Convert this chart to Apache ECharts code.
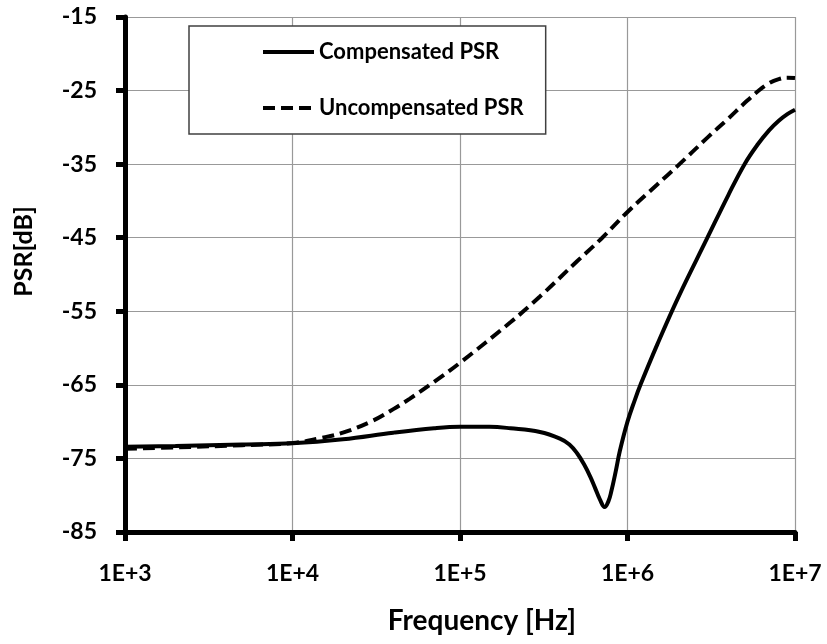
<!DOCTYPE html>
<html>
<head>
<meta charset="utf-8">
<title>PSR vs Frequency</title>
<script src="https://cdn.jsdelivr.net/npm/echarts@6/dist/echarts.min.js"></script>
<style>
  html, body { margin: 0; padding: 0; background: #fff; }
  #chart { width: 827px; height: 644px; }
</style>
</head>
<body>
<div id="chart"></div>
<script>
// Power-supply rejection vs. frequency, [frequency in Hz, PSR in dB]
const compensatedPSR = [
  [1e3, -73.4], [2e3, -73.3], [5e3, -73.1], [1e4, -72.95], [2e4, -72.4],
  [4e4, -71.5], [7e4, -70.9], [1e5, -70.7], [1.5e5, -70.7], [2e5, -70.9],
  [3e5, -71.4], [3.95e5, -72.3], [4.5e5, -73.1], [5e5, -74.3], [5.5e5, -75.8],
  [6e5, -77.5], [6.4e5, -79.0], [6.85e5, -80.6], [7.3e5, -81.6], [7.7e5, -80.8],
  [8e5, -79.5], [8.5e5, -76.8], [9e5, -74.0], [1e6, -70.0], [1.1e6, -67.2],
  [1.2e6, -64.9], [1.5e6, -59.6], [2e6, -53.2], [3e6, -45.0], [4e6, -39.2],
  [5e6, -35.0], [6e6, -32.3], [7e6, -30.4], [8e6, -29.1], [9e6, -28.2],
  [1e7, -27.6]
];
const uncompensatedPSR = [
  [1e3, -73.7], [2e3, -73.5], [5e3, -73.2], [1e4, -72.9], [1.5e4, -72.2],
  [2e4, -71.5], [3e4, -69.9], [4e4, -68.3], [5e4, -66.9], [7e4, -64.6],
  [1e5, -62.0], [2e5, -56.5], [3e5, -53.0], [5e5, -48.2], [7e5, -45.1],
  [1e6, -41.5], [1.5e6, -37.8], [2e6, -35.2], [3e6, -31.4], [4e6, -28.8],
  [5e6, -26.7], [6e6, -25.1], [7e6, -24.0], [8e6, -23.45], [9e6, -23.25],
  [1e7, -23.3]
];
const seriesNames = ['Compensated PSR', 'Uncompensated PSR'];
const xTickLabel = v => '1E+' + Math.round(Math.log10(v));

const FONT = 'Lato, "Open Sans", sans-serif';
const chart = echarts.init(document.getElementById('chart'), null, { renderer: 'canvas' });

chart.setOption({
  backgroundColor: '#ffffff',
  animation: false,
  grid: { left: 125, right: 32, top: 17, bottom: 112 },
  legend: {
    data: seriesNames,
    orient: 'vertical',
    left: 189,
    top: 26,
    padding: [15, 22, 15, 72],
    itemGap: 34,
    itemWidth: 51,
    itemHeight: 20,
    backgroundColor: '#ffffff',
    borderColor: '#404040',
    borderWidth: 1.5,
    borderRadius: 0,
    itemStyle: { opacity: 0 },
    lineStyle: { width: 4 },
    textStyle: { fontFamily: FONT, fontWeight: 'bold', fontSize: 22, color: '#000', lineHeight: 20 }
  },
  xAxis: {
    type: 'log',
    logBase: 10,
    min: 1e3,
    max: 1e7,
    name: 'Frequency [Hz]',
    nameLocation: 'middle',
    nameGap: 75,
    nameTextStyle: { fontFamily: FONT, fontWeight: 'bold', fontSize: 28, color: '#000', padding: [0, 0, 0, 44] },
    axisLine: { show: true, onZero: false, lineStyle: { color: '#000', width: 5 } },
    axisTick: { show: true, inside: false, length: 9, lineStyle: { color: '#000', width: 5 } },
    minorTick: { show: false },
    axisLabel: { formatter: xTickLabel, margin: 30, fontFamily: FONT, fontWeight: 'bold', fontSize: 23, color: '#000' },
    splitLine: { show: true, lineStyle: { color: '#999', width: 1.2 } }
  },
  yAxis: {
    type: 'value',
    min: -85,
    max: -15,
    interval: 10,
    name: 'PSR[dB]',
    nameLocation: 'middle',
    nameGap: 89,
    nameTextStyle: { fontFamily: FONT, fontWeight: 'bold', fontSize: 25, color: '#000', padding: [0, 0, 0, 46] },
    axisLine: { show: true, onZero: false, lineStyle: { color: '#000', width: 5 } },
    axisTick: { show: true, inside: false, length: 9, lineStyle: { color: '#000', width: 5 } },
    axisLabel: { margin: 28, fontFamily: FONT, fontWeight: 'bold', fontSize: 23, color: '#000' },
    splitLine: { show: true, lineStyle: { color: '#999', width: 1.2 } }
  },
  series: [
    {
      name: seriesNames[0],
      type: 'line',
      data: compensatedPSR,
      smooth: 0.4,
      symbol: 'none',
      lineStyle: { color: '#000', width: 4, type: 'solid' },
      itemStyle: { color: '#000' },
      z: 3
    },
    {
      name: seriesNames[1],
      type: 'line',
      data: uncompensatedPSR,
      smooth: 0.4,
      symbol: 'none',
      lineStyle: { color: '#000', width: 4, type: [12, 6] },
      itemStyle: { color: '#000' },
      z: 3
    }
  ]
});
</script>
</body>
</html>
